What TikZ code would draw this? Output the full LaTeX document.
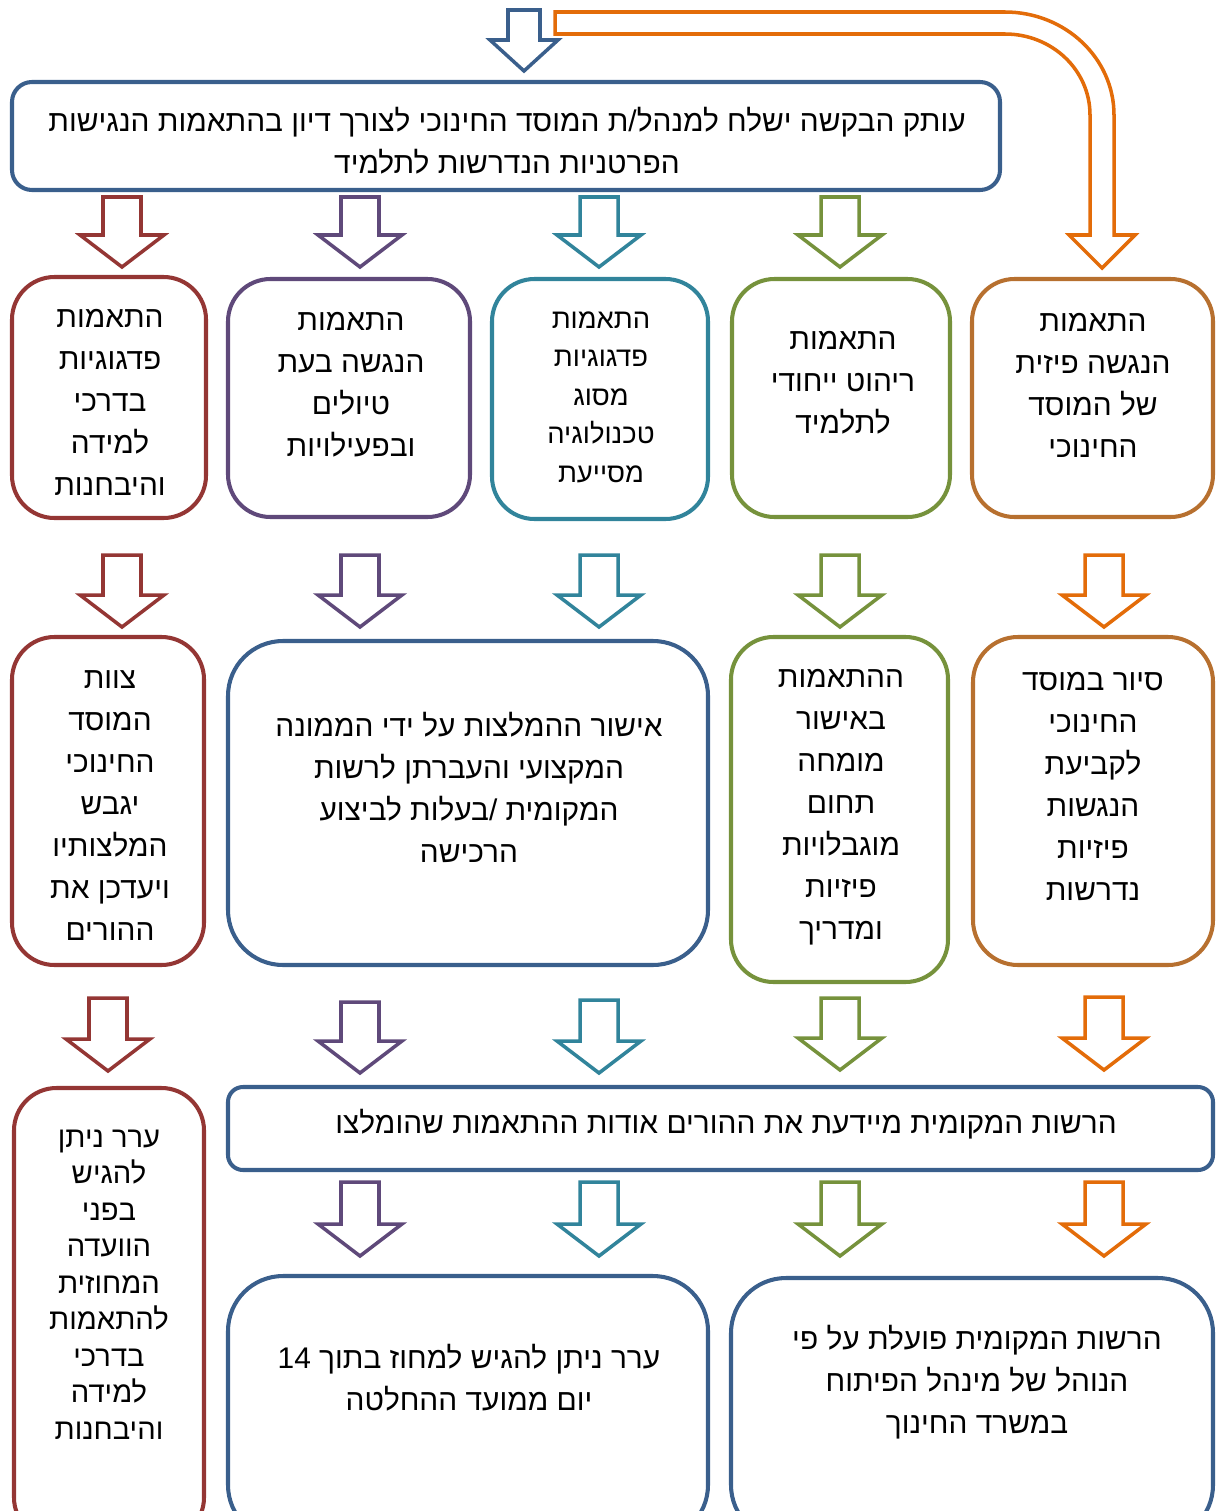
\documentclass[tikz,border=0pt]{standalone}
\usepackage{fontspec}
\usetikzlibrary{fit}
\TeXXeTstate=1
\newfontfamily\hebfont[Script=Hebrew]{Liberation Sans}
\newcommand{\rl}[1]{\beginR#1\endR}
\definecolor{flowblue}{HTML}{3A5F8C}
\definecolor{flowred}{HTML}{943634}
\definecolor{flowpurple}{HTML}{5F497A}
\definecolor{flowteal}{HTML}{31849B}
\definecolor{flowgreen}{HTML}{76923C}
\definecolor{floworange}{HTML}{E36C09}
\definecolor{flowbrown}{HTML}{B7702F}
% hollow arrow pointing down: colour, centre x, top y, tip y
\newcommand{\downblock}[4]{%
  \draw[blockarrow, draw=#1] (#2-19,#3) -- (#2+19,#3) -- (#2+19,#4-32)
    -- (#2+42,#4-32) -- (#2,#4) -- (#2-42,#4-32) -- (#2-19,#4-32) -- cycle;}

\begin{document}
\begin{tikzpicture}[
  x=0.02cm, y=-0.02cm,
  box/.style={draw, rounded corners=#1, line width=2.3pt, inner sep=0pt},
  box/.default=8.5mm,
  txt/.style={font=\hebfont\fontsize{17pt}{23.9pt}\selectfont, align=center, inner sep=0pt},
  blockarrow/.style={line width=2pt, fill=white, line join=miter},
  ]
  \tikzset{%
    smalltxt/.style={txt, font=\hebfont\fontsize{15.6pt}{21.9pt}\selectfont},
    tighttxt/.style={txt, font=\hebfont\fontsize{16.6pt}{20.8pt}\selectfont},
  }
  \useasboundingbox (0,0) rectangle (1218,1511);
  \clip (0,0) rectangle (1218,1511);
  %Boxes
  \node[box=4mm, draw=flowblue, fit={(12,82) (1000,190)}] (request) {};
  \node[box, draw=flowred, fit={(12,277) (206,518)}] (pedagogy) {};
  \node[box, draw=flowpurple, fit={(228,279) (470,517)}] (trips) {};
  \node[box, draw=flowteal, fit={(492,279) (708,519)}] (techno) {};
  \node[box, draw=flowgreen, fit={(732,279) (950,517)}] (furniture) {};
  \node[box, draw=flowbrown, fit={(972,279) (1213,517)}] (access) {};
  \node[box, draw=flowred, fit={(12,637) (204,965)}] (staff) {};
  \node[box=11mm, draw=flowblue, fit={(228,641) (708,965)}] (approval) {};
  \node[box, draw=flowgreen, fit={(731,637) (948,982)}] (expert) {};
  \node[box=9mm, draw=flowbrown, fit={(973,637) (1213,965)}] (tour) {};
  \node[box, draw=flowred, fit={(14,1088) (204,1540)}] (committee) {};
  \node[box=3mm, draw=flowblue, fit={(228,1087) (1213,1170)}] (inform) {};
  \node[box=11mm, draw=flowblue, fit={(228,1276) (708,1540)}] (appeal) {};
  \node[box=11mm, draw=flowblue, fit={(731,1278) (1213,1540)}] (procedure) {};
  %Texts
  \node[txt] (requestT) at (507,141)
    {\rl{עותק הבקשה ישלח למנהל/ת המוסד החינוכי לצורך דיון בהתאמות הנגישות}\\
     \rl{הפרטניות הנדרשות לתלמיד}};
  \node[txt] (pedagogyT) at (110,402.5)
    {\rl{התאמות}\\ \rl{פדגוגיות}\\ \rl{בדרכי}\\ \rl{למידה}\\ \rl{והיבחנות}};
  \node[txt] (tripsT) at (351,385)
    {\rl{התאמות}\\ \rl{הנגשה בעת}\\ \rl{טיולים}\\ \rl{ובפעילויות}};
  \node[smalltxt] (technoT) at (601,397)
    {\rl{התאמות}\\ \rl{פדגוגיות}\\ \rl{מסוג}\\ \rl{טכנולוגיה}\\ \rl{מסייעת}};
  \node[txt] (furnitureT) at (843,382.5)
    {\rl{התאמות}\\ \rl{ריהוט ייחודי}\\ \rl{לתלמיד}};
  \node[txt] (accessT) at (1093,385.5)
    {\rl{התאמות}\\ \rl{הנגשה פיזית}\\ \rl{של המוסד}\\ \rl{החינוכי}};
  \node[txt] (staffT) at (110,805.5)
    {\rl{צוות}\\ \rl{המוסד}\\ \rl{החינוכי}\\ \rl{יגבש}\\ \rl{המלצותיו}\\ \rl{ויעדכן את}\\ \rl{ההורים}};
  \node[txt] (approvalT) at (469,787)
    {\rl{אישור ההמלצות על ידי הממונה}\\ \rl{המקצועי והעברתן  לרשות}\\
     \rl{המקומית /בעלות לביצוע}\\ \rl{הרכישה}};
  \node[txt] (expertT) at (841,807.5)
    {\rl{ההתאמות}\\ \rl{באישור}\\ \rl{מומחה}\\ \rl{תחום}\\ \rl{מוגבלויות}\\ \rl{פיזיות}\\ \rl{ומדריך}};
  \node[txt] (tourT) at (1093,786)
    {\rl{סיור במוסד}\\ \rl{החינוכי}\\ \rl{לקביעת}\\ \rl{הנגשות}\\ \rl{פיזיות}\\ \rl{נדרשות}};
  \node[tighttxt] (committeeT) at (109,1284.5)
    {\rl{ערר ניתן}\\ \rl{להגיש}\\ \rl{בפני}\\ \rl{הוועדה}\\ \rl{המחוזית}\\ \rl{להתאמות}\\
     \rl{בדרכי}\\ \rl{למידה}\\ \rl{והיבחנות}};
  \node[txt] (informT) at (726,1124)
    {\rl{הרשות המקומית מיידעת את ההורים אודות ההתאמות שהומלצו}};
  \node[txt] (appealT) at (469,1378)
    {\rl{ערר ניתן להגיש למחוז בתוך \beginL14\endL}\\ \rl{יום ממועד ההחלטה}};
  \node[txt] (procedureT) at (977,1382)
    {\rl{הרשות המקומית פועלת על פי}\\ \rl{הנוהל של מינהל הפיתוח}\\ \rl{במשרד החינוך}};
  %Arrows
  \draw[blockarrow, draw=flowblue] (508,10) -- (540,10) -- (540,40) -- (558,40)
    -- (524,71) -- (490,40) -- (508,40) -- cycle;
  \draw[blockarrow, draw=floworange] (555,12) -- (1005,12)
    .. controls (1065,12) and (1114,58) .. (1114,115) -- (1114,235) -- (1135,235)
    -- (1102,268) -- (1069,235) -- (1090,235) -- (1090,115)
    .. controls (1090,70) and (1052,34) .. (1005,34) -- (555,34) -- cycle;
  % row 1
  \downblock{flowred}{122}{197}{267}
  \downblock{flowpurple}{360}{197}{267}
  \downblock{flowteal}{599}{197}{267}
  \downblock{flowgreen}{840}{197}{267}
  % row 2
  \downblock{flowred}{122}{555}{627}
  \downblock{flowpurple}{360}{555}{627}
  \downblock{flowteal}{599}{555}{627}
  \downblock{flowgreen}{840}{555}{627}
  \downblock{floworange}{1104}{555}{627}
  % row 3
  \downblock{flowred}{108}{998}{1071}
  \downblock{flowpurple}{360}{1002}{1073}
  \downblock{flowteal}{599}{1000}{1073}
  \downblock{flowgreen}{840}{998}{1070}
  \downblock{floworange}{1104}{997}{1070}
  % row 4
  \downblock{flowpurple}{360}{1182}{1256}
  \downblock{flowteal}{599}{1182}{1256}
  \downblock{flowgreen}{840}{1182}{1256}
  \downblock{floworange}{1104}{1182}{1256}
\end{tikzpicture}
\end{document}
